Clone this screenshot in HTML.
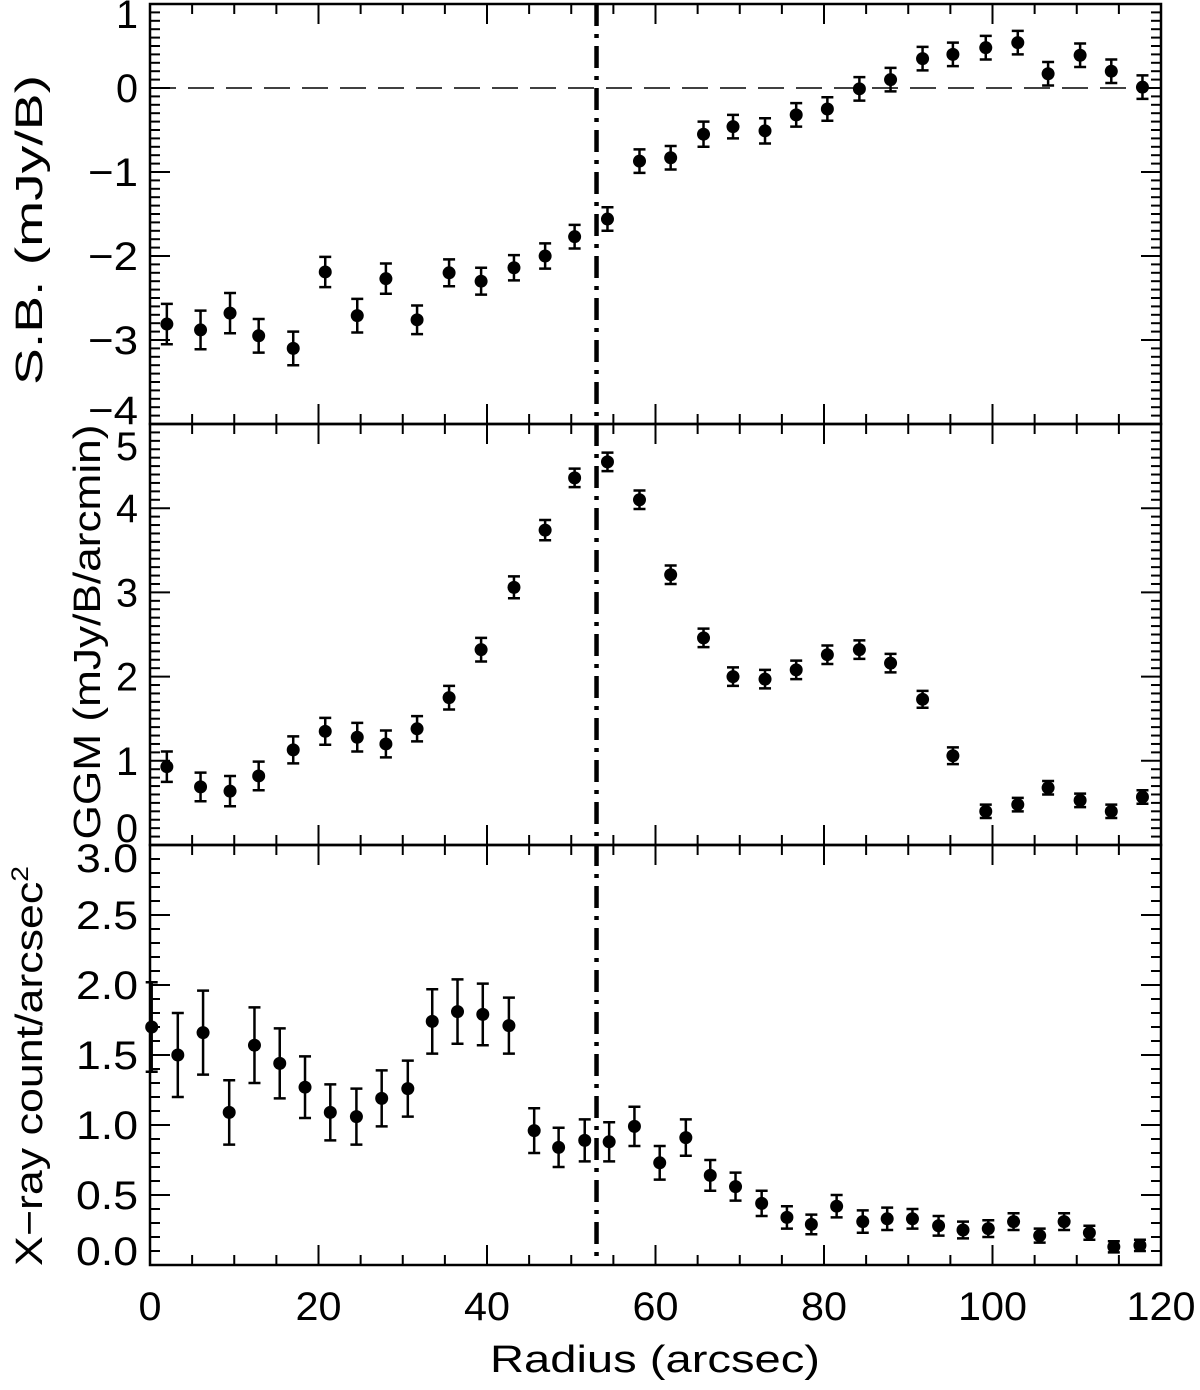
<!DOCTYPE html>
<html><head><meta charset="utf-8"><style>
html,body{margin:0;padding:0;background:#fff;}
svg{display:block;font-family:"Liberation Sans","DejaVu Sans",sans-serif;}
</style></head><body>
<svg id="chart" width="1200" height="1390" viewBox="0 0 1200 1390" xmlns="http://www.w3.org/2000/svg"></svg>
<script>
// ---- data ----
const sbRadius = [2,6,9.5,12.9,17,20.8,24.6,28,31.7,35.5,39.3,43.2,46.9,50.4,54.3,58.1,61.8,65.7,69.2,73,76.7,80.4,84.2,87.9,91.7,95.3,99.2,103,106.6,110.4,114.1,117.8];
const sbValues = [-2.81,-2.88,-2.68,-2.95,-3.10,-2.19,-2.71,-2.27,-2.76,-2.20,-2.30,-2.14,-2.00,-1.77,-1.56,-0.87,-0.83,-0.55,-0.46,-0.51,-0.32,-0.25,-0.01,0.10,0.35,0.40,0.48,0.54,0.17,0.39,0.20,0.01];
const sbErrors = [0.24,0.23,0.24,0.2,0.2,0.18,0.2,0.18,0.17,0.16,0.16,0.15,0.15,0.14,0.14,0.14,0.14,0.15,0.14,0.15,0.14,0.14,0.14,0.14,0.14,0.14,0.14,0.14,0.14,0.14,0.14,0.14];
const ggmRadius = sbRadius;
const ggmValues = [0.93,0.69,0.64,0.82,1.13,1.35,1.28,1.20,1.38,1.75,2.32,3.06,3.74,4.36,4.55,4.10,3.21,2.46,2.00,1.97,2.08,2.26,2.32,2.16,1.73,1.06,0.40,0.48,0.68,0.53,0.40,0.57];
const ggmErrors = [0.18,0.17,0.18,0.17,0.16,0.16,0.17,0.16,0.15,0.14,0.14,0.13,0.12,0.11,0.11,0.11,0.11,0.11,0.11,0.11,0.11,0.11,0.11,0.11,0.1,0.1,0.08,0.08,0.08,0.08,0.08,0.08];
const xrayRadius = [0.2,3.3,6.3,9.4,12.4,15.4,18.4,21.4,24.5,27.5,30.6,33.5,36.5,39.5,42.6,45.6,48.5,51.6,54.5,57.5,60.5,63.6,66.5,69.5,72.6,75.6,78.5,81.5,84.6,87.5,90.5,93.6,96.5,99.5,102.5,105.6,108.5,111.5,114.4,117.5];
const xrayValues = [1.70,1.50,1.66,1.09,1.57,1.44,1.27,1.09,1.06,1.19,1.26,1.74,1.81,1.79,1.71,0.96,0.84,0.89,0.88,0.99,0.73,0.91,0.64,0.56,0.44,0.34,0.29,0.42,0.31,0.33,0.33,0.28,0.25,0.26,0.31,0.21,0.31,0.23,0.13,0.14];
const xrayErrors = [0.32,0.3,0.3,0.23,0.27,0.25,0.22,0.2,0.2,0.2,0.2,0.23,0.23,0.22,0.2,0.16,0.14,0.15,0.14,0.14,0.12,0.13,0.11,0.1,0.09,0.08,0.07,0.08,0.08,0.08,0.07,0.07,0.06,0.06,0.06,0.05,0.06,0.05,0.04,0.04];
const xTicks = [0,20,40,60,80,100,120];
const sbTicks = [-4,-3,-2,-1,0,1];
const ggmTicks = [0,1,2,3,4,5];
const xrayTicks = [0.0,0.5,1.0,1.5,2.0,2.5,3.0];
const xrayTickLabels = ["0.0","0.5","1.0","1.5","2.0","2.5","3.0"];
const boundaryRadius = 53.0;

// ---- layout ----
const svg = document.getElementById('chart');
const NS = 'http://www.w3.org/2000/svg';
const L = 150, R = 1161;
const xs = v => L + (v - 0) / 120 * (R - L);
const panels = [
  {name:'sb', top:4, bot:424},
  {name:'ggm', top:424, bot:845},
  {name:'xray', top:845, bot:1265}
];
function mk(tag, attrs, parent) {
  const e = document.createElementNS(NS, tag);
  for (const k in attrs) e.setAttribute(k, attrs[k]);
  (parent || svg).appendChild(e);
  return e;
}
const ySB = v => 88 - 84 * v;
const yGGM = v => 845 - 84.2 * v;
const yXR = v => 1265 - 140 * v;

function drawFrame(p, ys, lo, hi, minorStep, majorStep, name) {
  const g = mk('g', {});
  
  
  mk('rect', {x:L, y:p.top, width:R-L, height:p.bot-p.top, fill:'none', stroke:'#000', 'stroke-width':2.5}, g);
  const n = Math.round((hi - lo) / minorStep);
  for (let i = 0; i <= n; i++) {
    const v = lo + i * minorStep;
    const y = ys(v);
    if (y < p.top - 0.5 || y > p.bot + 0.5) continue;
    const isMaj = Math.abs(v / majorStep - Math.round(v / majorStep)) < 1e-6;
    const len = isMaj ? 20 : 10;
    mk('line', {x1:L, x2:L+len, y1:y, y2:y, stroke:'#000', 'stroke-width':2}, g);
    mk('line', {x1:R, x2:R-len, y1:y, y2:y, stroke:'#000', 'stroke-width':2}, g);
  }
  for (let v = 0; v <= 120; v += 5) {
    const x = xs(v);
    const len = v % 20 === 0 ? 20 : 10;
    mk('line', {x1:x, x2:x, y1:p.bot, y2:p.bot-len, stroke:'#000', 'stroke-width':2}, g);
    mk('line', {x1:x, x2:x, y1:p.top, y2:p.top+len, stroke:'#000', 'stroke-width':2}, g);
  }
}
drawFrame(panels[0], ySB, -4, 1, 0.1, 1, 'sb-panel');
drawFrame(panels[1], yGGM, 0, 5, 0.1, 1, 'ggm-panel');
drawFrame(panels[2], yXR, 0, 3, 0.1, 0.5, 'xray-panel');

function txt(s, x, y, size, anchor, name, rot, tlen) {
  const t = mk('text', {x:x, y:y, 'font-size':size, 'text-anchor':anchor||'middle', fill:'#000'});
  if (rot) t.setAttribute('transform', 'rotate(-90 ' + x + ' ' + y + ')');
  if (tlen) { t.setAttribute('textLength', tlen); t.setAttribute('lengthAdjust', 'spacingAndGlyphs'); }
  t.textContent = s;
  
  
  return t;
}
sbTicks.forEach(v => {
  let y = ySB(v) + 14;
  if (v === -4) y = 424;
  if (v === 1) y = 28;
  txt(v < 0 ? '\u2212' + Math.abs(v) : String(v), 138, y, 40, 'end', 'sb-tick-label', false, v < 0 ? 50 : 22);
});
ggmTicks.forEach(v => {
  let y = yGGM(v) + 14;
  if (v === 5) y = 460;
  if (v === 0) y = 842;
  txt(String(v), 138, y, 40, 'end', 'ggm-tick-label', false, 22);
});
xrayTicks.forEach((v, i) => {
  let y = yXR(v) + 14;
  if (v === 3) y = 872;
  if (v === 0) y = 1265;
  txt(xrayTickLabels[i], 138, y, 40, 'end', 'xray-tick-label', false, 62);
});
xTicks.forEach(v => txt(String(v), xs(v), 1320, 40, 'middle', 'x-tick-label', false, String(v).length * 23));

txt('Radius (arcsec)', 655, 1372, 38, 'middle', 'x-axis-title', false, 330);
txt('S.B. (mJy/B)', 42, 230, 38, 'middle', 'sb-y-axis-title', true, 310);
txt('GGM (mJy/B/arcmin)', 100, 632, 38, 'middle', 'ggm-y-axis-title', true, 415);
const xt = txt('X\u2212ray count/arcsec', 42, 1066, 38, 'middle', 'xray-y-axis-title', true, 400);
const sup = mk('tspan', {dy:-14, 'font-size':24}, xt); sup.textContent = '2';

const zl = mk('line', {x1:L, x2:R, y1:ySB(0), y2:ySB(0), stroke:'#000', 'stroke-width':1.5, 'stroke-dasharray':'26 12'});



const bl = mk('line', {x1:xs(boundaryRadius), x2:xs(boundaryRadius), y1:4, y2:1265, stroke:'#000', 'stroke-width':4.5, 'stroke-dasharray':'22 8 4 8'});



function series(xsArr, vals, errs, ys, name) {
  const g = mk('g', {});
  
  
  for (let i = 0; i < vals.length; i++) {
    const x = xs(xsArr[i]), y1 = ys(vals[i] - errs[i]), y2 = ys(vals[i] + errs[i]);
    const e = mk('path', {d:`M${x},${y1}V${y2}M${x-6},${y1}H${x+6}M${x-6},${y2}H${x+6}`, stroke:'#000', 'stroke-width':2.5, fill:'none'}, g);
    
    
    const c = mk('circle', {cx:x, cy:ys(vals[i]), r:6.5, fill:'#000'}, g);
    
    
  }
}
series(sbRadius, sbValues, sbErrors, ySB, 'sb');
series(ggmRadius, ggmValues, ggmErrors, yGGM, 'ggm');
series(xrayRadius, xrayValues, xrayErrors, yXR, 'xray');
</script>
</body></html>
